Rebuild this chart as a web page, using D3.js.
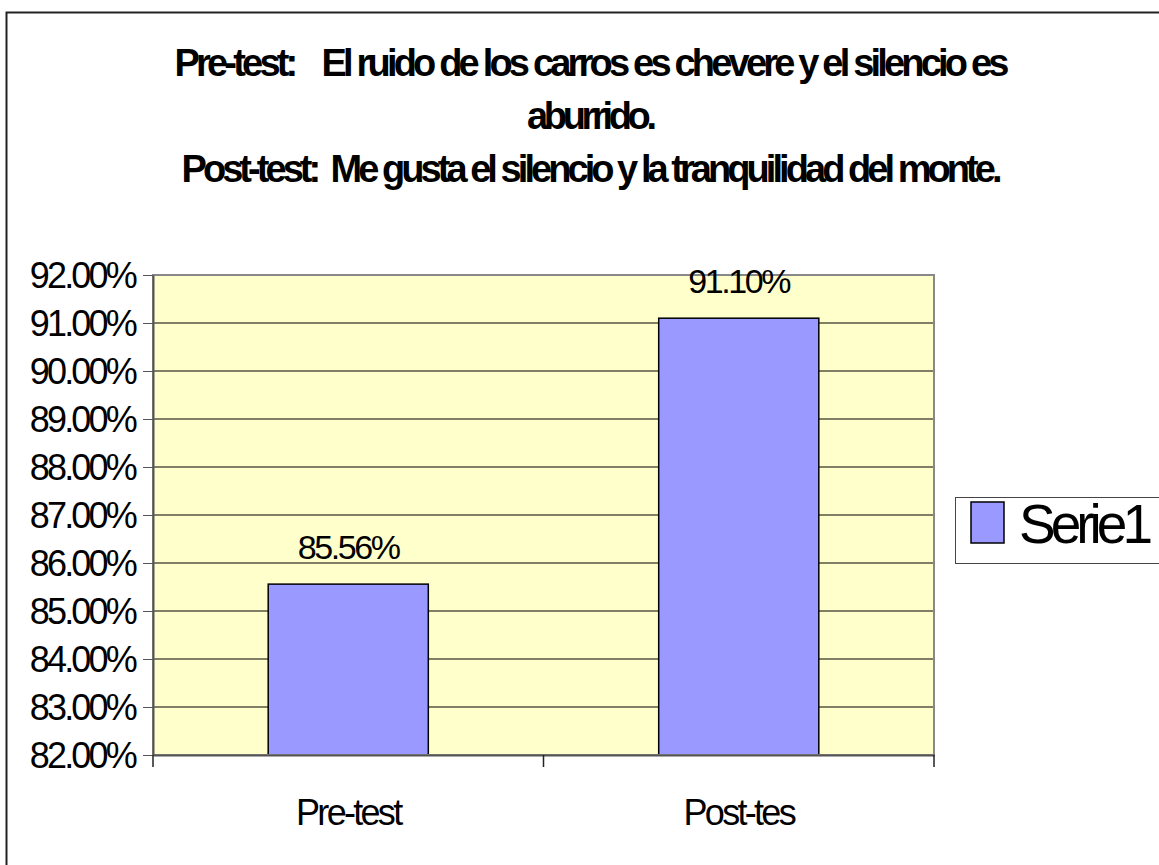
<!DOCTYPE html>
<html>
<head>
<meta charset="utf-8">
<script src="https://cdn.jsdelivr.net/npm/d3@7"></script>
<style>
  body { margin: 0; background: #fff; }
  text { font-family: "Liberation Sans", Arial, sans-serif; }
</style>
</head>
<body>
<div id="chart-area"></div>
<script>
// Data
const categories = ['Pre-test', 'Post-tes']
const values = [85.56, 91.10]
const yTicks = [82, 83, 84, 85, 86, 87, 88, 89, 90, 91, 92]
const titleLines = [
	'Pre-test:    El ruido de los carros es chevere y el silencio es',
	'aburrido.',
	'Post-test:  Me gusta el silencio y la tranquilidad del monte.'
]
const seriesName = 'Serie1'

const canvas = { width: 1159, height: 865 }
const plot = { left: 153, right: 934, top: 275, bottom: 755 }

let svg = d3.select('#chart-area')
	.append('svg')
		.attr('width', canvas.width)
		.attr('height', canvas.height)

// Outer chart border (runs off the right and bottom edges)
svg.append('rect')
	.attr('x', 6.5).attr('y', 12.5)
	.attr('width', canvas.width + 20).attr('height', canvas.height + 20)
	.attr('fill', '#fff')
	.attr('stroke', '#222')
	.attr('stroke-width', 2)

// Title
const titleWidths = [835, 130, 821]
svg.append('g')
	.selectAll('text')
	.data(titleLines)
	.enter()
	.append('text')
		.attr('x', 592)
		.attr('y', (d, i) => 76 + i * 53)
		.attr('text-anchor', 'middle')
		.attr('font-size', '38px')
		.attr('font-weight', 'bold')
		.attr('textLength', (d, i) => titleWidths[i])
		.attr('lengthAdjust', 'spacing')
		.style('white-space', 'pre')
		.text(d => d)

// Scales
let x = d3.scaleBand()
	.domain(categories)
	.range([plot.left, plot.right])
	.padding(0)
let y = d3.scaleLinear()
	.domain([yTicks[0], yTicks[yTicks.length - 1]])
	.range([plot.bottom, plot.top])

// Plot background
svg.append('rect')
	.attr('x', plot.left).attr('y', plot.top)
	.attr('width', plot.right - plot.left).attr('height', plot.bottom - plot.top)
	.attr('fill', '#FFFFCC')

// Gridlines
svg.append('g')
	.selectAll('line')
	.data(yTicks.slice(1, -1))
	.enter()
	.append('line')
		.attr('x1', plot.left).attr('x2', plot.right)
		.attr('y1', d => y(d)).attr('y2', d => y(d))
		.attr('stroke', '#000')
		.attr('stroke-width', 1)

// Bars
const barWidth = x.bandwidth() * 0.41
svg.append('g')
	.selectAll('rect')
	.data(values)
	.enter()
	.append('rect')
		.attr('x', (d, i) => x(categories[i]) + (x.bandwidth() - barWidth) / 2)
		.attr('y', d => y(d))
		.attr('width', barWidth)
		.attr('height', d => y(yTicks[0]) - y(d))
		.attr('fill', '#9999FF')
		.attr('stroke', '#000')
		.attr('stroke-width', 1.5)

// Plot border
svg.append('rect')
	.attr('x', plot.left).attr('y', plot.top)
	.attr('width', plot.right - plot.left).attr('height', plot.bottom - plot.top)
	.attr('fill', 'none')
	.attr('stroke', '#888')
	.attr('stroke-width', 2)

// Y axis
let yAxis = d3.axisLeft(y)
	.tickValues(yTicks)
	.tickSize(10)
	.tickSizeOuter(0)
	.tickPadding(8)
	.tickFormat(d => d.toFixed(2) + '%')
let yG = svg.append('g')
	.attr('transform', `translate(${plot.left}, 0)`)
	.call(yAxis)
yG.select('.domain').attr('stroke', '#555').attr('stroke-width', 2)
yG.selectAll('.tick line').attr('stroke', '#555')
yG.selectAll('.tick text')
	.attr('fill', '#000')
	.attr('font-family', '"Liberation Sans", Arial, sans-serif')
	.attr('font-size', '36px')
	.attr('letter-spacing', '-2.8px')
	.attr('dy', '0.36em')

// X axis
let xAxis = d3.axisBottom(x)
	.tickSize(0)
	.tickSizeOuter(0)
let xG = svg.append('g')
	.attr('transform', `translate(0, ${plot.bottom})`)
	.call(xAxis)
xG.select('.domain').attr('stroke', '#555').attr('stroke-width', 2)
xG.selectAll('.tick text')
	.attr('fill', '#000')
	.attr('font-family', '"Liberation Sans", Arial, sans-serif')
	.attr('font-size', '36px')
	.attr('letter-spacing', '-2.7px')
	.attr('y', 70)
	.attr('dy', 0)
// Category boundary ticks
const bounds = [x(categories[0])].concat(categories.map(c => x(c) + x.step()))
xG.selectAll('.bound')
	.data(bounds)
	.enter()
	.append('line')
		.attr('class', 'bound')
		.attr('x1', d => d).attr('x2', d => d)
		.attr('y1', 0).attr('y2', 12)
		.attr('stroke', '#222')
		.attr('stroke-width', 1.5)

// Data labels
svg.append('g')
	.selectAll('text')
	.data(values)
	.enter()
	.append('text')
		.attr('x', (d, i) => x(categories[i]) + x.bandwidth() / 2)
		.attr('y', d => y(d) - 25)
		.attr('text-anchor', 'middle')
		.attr('font-size', '34px')
		.attr('letter-spacing', '-2.4px')
		.text(d => d.toFixed(2) + '%')

// Legend
let legend = svg.append('g')
legend.append('rect')
	.attr('x', 955.5).attr('y', 497.5)
	.attr('width', 240).attr('height', 66)
	.attr('fill', '#fff')
	.attr('stroke', '#444')
	.attr('stroke-width', 1)
legend.append('rect')
	.attr('x', 971).attr('y', 502)
	.attr('width', 33).attr('height', 41)
	.attr('fill', '#9999FF')
	.attr('stroke', '#000')
	.attr('stroke-width', 1.5)
legend.append('text')
	.attr('x', 1019)
	.attr('y', 543)
	.attr('font-size', '55px')
	.attr('letter-spacing', '-5px')
	.text(seriesName)
</script>
</body>
</html>
